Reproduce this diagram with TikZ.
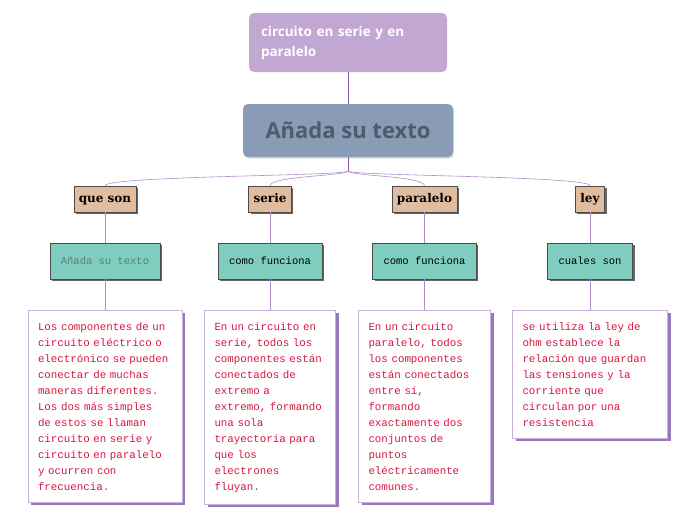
\documentclass[tikz,border=0pt]{standalone}
\usepackage{fontspec}
\usetikzlibrary{shadows}
\newfontfamily\headfont{Open Sans}
\newfontfamily\tagfont{DejaVu Serif}
\newfontfamily\codefont{Liberation Mono}

\begin{document}
\begin{tikzpicture}[x=1pt,y=-1pt,
  titlebox/.style={fill=titlelila,rounded corners=5,minimum width=198,minimum height=59,
    text width=174,align=left,text=white,font=\headfont\fontsize{13.5}{20}\selectfont\bfseries},
  mainbox/.style={fill=mainslate,rounded corners=5,minimum width=210,minimum height=53,
    text=maintext,font=\headfont\fontsize{22}{24}\selectfont\bfseries,
    drop shadow={shadow xshift=1pt,shadow yshift=-1.5pt,fill=black,opacity=.15}},
  tag/.style={draw=black!70,fill=tagtan,minimum height=26,inner xsep=5,
    text height=8,text depth=2,
    font=\tagfont\fontsize{12}{14}\selectfont\bfseries,
    drop shadow={shadow xshift=2pt,shadow yshift=-2pt,fill=black!60,opacity=1}},
  ask/.style={draw=black!70,fill=askteal,minimum height=36,inner xsep=11,
    font=\codefont\fontsize{10.5}{12}\selectfont,
    drop shadow={shadow xshift=2pt,shadow yshift=-2pt,fill=black!60,opacity=1}},
  note/.style={draw=notelila,fill=white,anchor=north,inner xsep=10,inner ysep=12,align=left,
    text=notered,font=\codefont\fontsize{10.8}{16}\selectfont,
    drop shadow={shadow xshift=3pt,shadow yshift=-3pt,fill=noteshade,opacity=1}},
  trunk/.style={draw=trunklila,line width=0.8},
  branch/.style={draw=branchlila,line width=0.6}]
  \definecolor{titlelila}{HTML}{C2A7D3}
  \definecolor{mainslate}{HTML}{8A9CB5}
  \definecolor{maintext}{HTML}{4E5B6C}
  \definecolor{tagtan}{HTML}{E2BC9E}
  \definecolor{askteal}{HTML}{7FCDBF}
  \definecolor{askgrey}{HTML}{5E7D78}
  \definecolor{notelila}{HTML}{C9B1DD}
  \definecolor{noteshade}{HTML}{9A78BE}
  \definecolor{notered}{HTML}{D4173F}
  \definecolor{trunklila}{HTML}{8B5BAE}
  \definecolor{branchlila}{HTML}{B08DCB}

  \useasboundingbox (0,0) rectangle (696,520);

  \node[titlebox] (title) at (348,42.5) {circuito en serie y en\\paralelo};
  \node[mainbox] (main) at (348,130.5) {Añada su texto};
  \coordinate (fork) at (348,171);

  % preguntas
  \node[tag] (qson) at (105,199) {que son};
  \node[tag] (serie) at (270,199) {serie};
  \node[tag] (paral) at (424.5,199) {paralelo};
  \node[tag] (ley) at (590,199) {ley};

  \node[ask,text=askgrey] (t1) at (105,261) {Añada su texto};
  \node[ask] (t2) at (270,261) {como funciona};
  \node[ask] (t3) at (424.5,261) {como funciona};
  \node[ask] (t4) at (590,261) {cuales son};

  % notas
  \node[note,text width=134] (d1) at (105,310) {Los componentes de un\\circuito eléctrico o\\electrónico se pueden\\conectar de muchas\\maneras diferentes.\\Los dos más simples\\de estos se llaman\\circuito en serie y\\circuito en paralelo\\y ocurren con\\frecuencia.};
  \node[note,text width=111] (d2) at (270,310) {En un circuito en\\serie, todos los\\componentes están\\conectados de\\extremo a\\extremo, formando\\una sola\\trayectoria para\\que los\\electrones\\fluyan.};
  \node[note,text width=112] (d3) at (424.5,310) {En un circuito\\paralelo, todos\\los componentes\\están conectados\\entre sí,\\formando\\exactamente dos\\conjuntos de\\puntos\\eléctricamente\\comunes.};
  \node[note,text width=135] (d4) at (590,310) {se utiliza la ley de\\ohm establece la\\relación que guardan\\las tensiones y la\\corriente que\\circulan por una\\resistencia};

  \draw[trunk] (title) -- (main);
  \draw[trunk] (main.south) -- (fork);
  \foreach \n in {qson,serie,paral,ley}
    \draw[branch] (fork) .. controls +(0,5) and +(0,-10) .. (\n.north);
  \foreach \a/\b in {qson/t1,serie/t2,paral/t3,ley/t4,t1/d1,t2/d2,t3/d3,t4/d4}
    \draw[branch] (\a.south) -- (\b.north);
\end{tikzpicture}
\end{document}
